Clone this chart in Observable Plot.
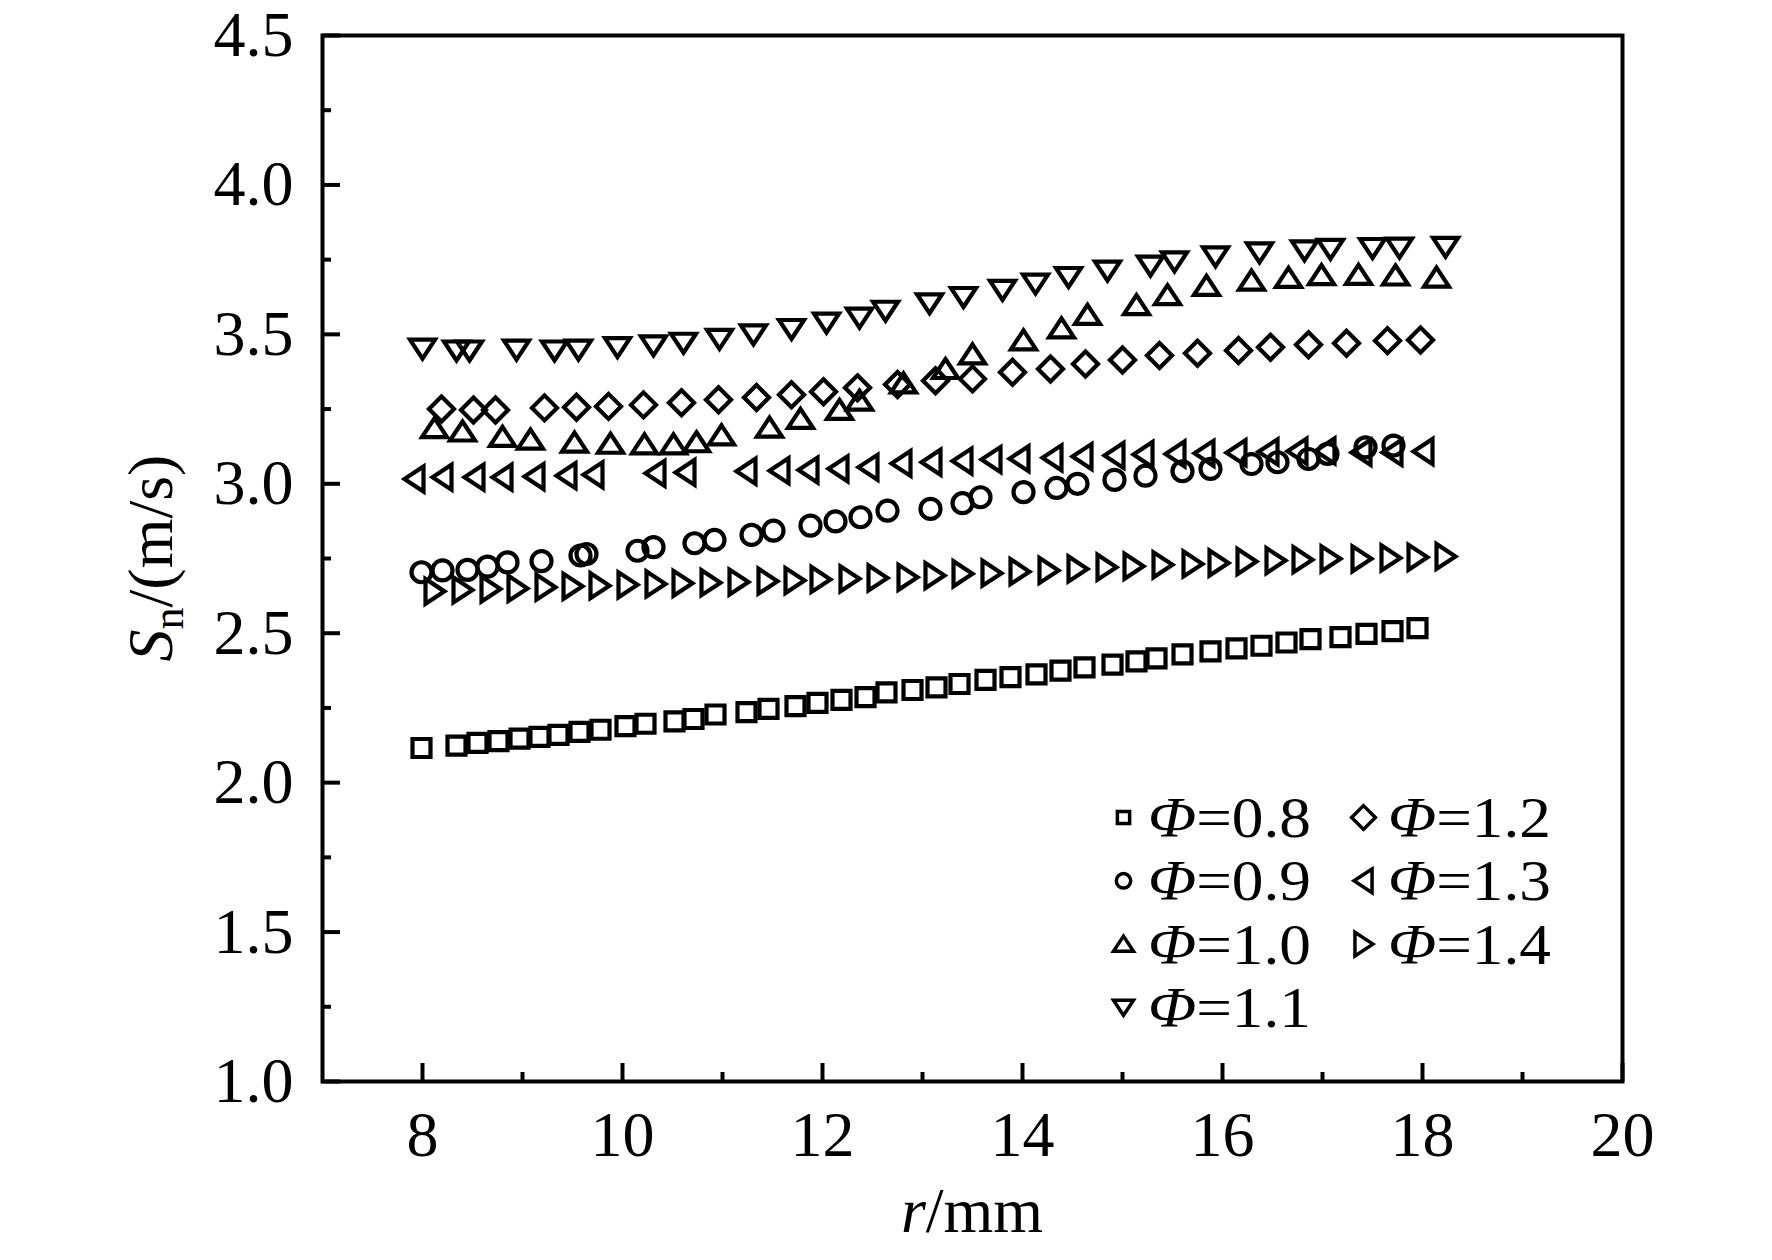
<!DOCTYPE html>
<html>
<head>
<meta charset="utf-8">
<script src="https://cdn.jsdelivr.net/npm/d3@7"></script>
<script src="https://cdn.jsdelivr.net/npm/@observablehq/plot@0.6"></script>
<style>
  body { margin: 0; background: #fff; }
  #chart svg { display: block; }
</style>
</head>
<body>
<div id="chart"></div>
<script>
// ---- tick values ----
const xTicks = [8, 10, 12, 14, 16, 18, 20];
const xMinor = [9, 11, 13, 15, 17, 19];
const yTicks = [1.0, 1.5, 2.0, 2.5, 3.0, 3.5, 4.0, 4.5];
const yMinor = [1.25, 1.75, 2.25, 2.75, 3.25, 3.75, 4.25];

// ---- series (r in mm, Sn in m/s) ----
const seriesNames = ["0.8", "0.9", "1.0", "1.1", "1.2", "1.3", "1.4"];

const r08 = [7.99, 8.34, 8.55, 8.76, 8.97, 9.17, 9.36, 9.57, 9.78, 10.03, 10.23, 10.52, 10.71, 10.93, 11.24, 11.46, 11.73, 11.95, 12.19, 12.43, 12.64, 12.90, 13.14, 13.37, 13.63, 13.88, 14.14, 14.38, 14.62, 14.90, 15.14, 15.34, 15.60, 15.88, 16.14, 16.39, 16.64, 16.88, 17.18, 17.44, 17.70, 17.95];
const s08 = [2.116, 2.124, 2.133, 2.139, 2.147, 2.153, 2.160, 2.170, 2.177, 2.189, 2.197, 2.205, 2.213, 2.228, 2.236, 2.247, 2.256, 2.267, 2.277, 2.286, 2.302, 2.310, 2.319, 2.330, 2.344, 2.353, 2.362, 2.375, 2.386, 2.395, 2.406, 2.416, 2.429, 2.439, 2.449, 2.458, 2.469, 2.480, 2.487, 2.498, 2.507, 2.517];

const r09 = [7.99, 8.20, 8.45, 8.65, 8.85, 9.19, 9.58, 9.64, 10.15, 10.31, 10.72, 10.92, 11.29, 11.51, 11.88, 12.13, 12.38, 12.65, 13.08, 13.40, 13.58, 14.01, 14.34, 14.55, 14.92, 15.23, 15.60, 15.88, 16.29, 16.55, 16.86, 17.05, 17.43, 17.71];
const s09 = [2.704, 2.710, 2.712, 2.723, 2.737, 2.741, 2.760, 2.765, 2.776, 2.788, 2.801, 2.812, 2.829, 2.843, 2.860, 2.874, 2.888, 2.910, 2.916, 2.935, 2.955, 2.972, 2.986, 3.000, 3.013, 3.027, 3.042, 3.050, 3.066, 3.072, 3.083, 3.100, 3.122, 3.128];

const r10 = [8.12, 8.40, 8.80, 9.08, 9.52, 9.88, 10.22, 10.51, 10.74, 10.99, 11.47, 11.78, 12.17, 12.37, 12.81, 13.23, 13.50, 14.01, 14.39, 14.65, 15.14, 15.45, 15.84, 16.29, 16.66, 16.99, 17.36, 17.73, 18.14];
const s10 = [3.186, 3.175, 3.157, 3.148, 3.138, 3.134, 3.132, 3.132, 3.139, 3.162, 3.188, 3.217, 3.247, 3.278, 3.336, 3.384, 3.433, 3.480, 3.520, 3.565, 3.598, 3.631, 3.662, 3.680, 3.689, 3.698, 3.699, 3.697, 3.690];

const r11 = [8.00, 8.34, 8.47, 8.94, 9.32, 9.56, 9.95, 10.31, 10.61, 10.97, 11.31, 11.69, 12.04, 12.37, 12.63, 13.07, 13.41, 13.80, 14.13, 14.46, 14.85, 15.28, 15.52, 15.93, 16.37, 16.82, 17.08, 17.50, 17.77, 18.23];
const s11 = [3.452, 3.446, 3.446, 3.449, 3.446, 3.449, 3.457, 3.463, 3.472, 3.485, 3.500, 3.518, 3.539, 3.556, 3.579, 3.604, 3.625, 3.649, 3.670, 3.692, 3.713, 3.730, 3.744, 3.761, 3.774, 3.781, 3.786, 3.789, 3.790, 3.793];

const r12 = [8.19, 8.51, 8.73, 9.22, 9.54, 9.86, 10.21, 10.59, 10.96, 11.34, 11.69, 12.01, 12.35, 12.75, 13.13, 13.50, 13.90, 14.28, 14.63, 15.00, 15.37, 15.75, 16.16, 16.48, 16.86, 17.24, 17.65, 17.98];
const s12 = [3.250, 3.247, 3.247, 3.254, 3.256, 3.259, 3.264, 3.271, 3.281, 3.289, 3.298, 3.308, 3.321, 3.332, 3.345, 3.351, 3.373, 3.384, 3.401, 3.414, 3.429, 3.437, 3.446, 3.457, 3.465, 3.470, 3.479, 3.481];

const r13 = [7.92, 8.20, 8.52, 8.80, 9.12, 9.44, 9.71, 10.33, 10.63, 11.24, 11.57, 11.86, 12.16, 12.46, 12.79, 13.09, 13.40, 13.69, 13.97, 14.30, 14.60, 14.92, 15.21, 15.53, 15.82, 16.14, 16.46, 16.75, 17.03, 17.39, 17.70, 18.01];
const s13 = [3.016, 3.022, 3.022, 3.022, 3.024, 3.027, 3.030, 3.035, 3.038, 3.042, 3.044, 3.046, 3.050, 3.055, 3.068, 3.072, 3.076, 3.081, 3.084, 3.087, 3.091, 3.095, 3.098, 3.100, 3.102, 3.104, 3.107, 3.109, 3.110, 3.105, 3.105, 3.108];

const r14 = [8.12, 8.40, 8.68, 8.95, 9.23, 9.50, 9.77, 10.05, 10.33, 10.60, 10.88, 11.16, 11.45, 11.72, 11.98, 12.27, 12.55, 12.85, 13.12, 13.40, 13.69, 13.97, 14.26, 14.55, 14.84, 15.11, 15.40, 15.70, 15.96, 16.24, 16.53, 16.80, 17.08, 17.39, 17.68, 17.95, 18.23];
const s14 = [2.640, 2.645, 2.648, 2.650, 2.654, 2.657, 2.659, 2.662, 2.665, 2.667, 2.669, 2.671, 2.674, 2.676, 2.680, 2.682, 2.685, 2.687, 2.693, 2.699, 2.701, 2.706, 2.710, 2.715, 2.721, 2.724, 2.729, 2.732, 2.735, 2.740, 2.743, 2.746, 2.749, 2.749, 2.752, 2.754, 2.757];

const seriesR = [r08, r09, r10, r11, r12, r13, r14];
const seriesS = [s08, s09, s10, s11, s12, s13, s14];

// ---- custom open marker shapes (scaled by r; r = 10 is the data size) ----
function poly(pts) {
  return {
    draw(ctx, size) {
      const k = Math.sqrt(size / Math.PI) / 10;
      ctx.moveTo(pts[0][0] * k, pts[0][1] * k);
      for (let i = 1; i < pts.length; ++i) ctx.lineTo(pts[i][0] * k, pts[i][1] * k);
      ctx.closePath();
    }
  };
}
const symCircle = {
  draw(ctx, size) {
    const rr = Math.sqrt(size / Math.PI);
    ctx.moveTo(rr, 0);
    ctx.arc(0, 0, rr, 0, 2 * Math.PI);
    ctx.closePath();
  }
};
const symSquare = poly([[-9, -9], [9, -9], [9, 9], [-9, 9]]);
const symUp = poly([[0, -10], [12.5, 9], [-12.5, 9]]);
const symDown = poly([[0, 10], [12.5, -9], [-12.5, -9]]);
const symLeft = poly([[-10, 0], [9, -12.5], [9, 12.5]]);
const symRight = poly([[10, 0], [-9, -12.5], [-9, 12.5]]);
const symDiamond = poly([[0, -12.5], [12.5, 0], [0, 12.5], [-12.5, 0]]);
const symbols = [symSquare, symCircle, symUp, symDown, symDiamond, symLeft, symRight];
const legendScale = [0.68, 0.72, 0.8, 0.8, 0.95, 0.95, 0.95];

// ---- layout ----
const W = 1772, H = 1260;
const mL = 322, mR = 150, mT = 35, mB = 179;
const plotW = W - mL - mR, plotH = H - mT - mB;
const font = "'Liberation Serif', 'Times New Roman', serif";

const tables = seriesNames.map((name, i) =>
  seriesR[i].map((r, j) => ({phi: name, r, s: seriesS[i][j]}))
);

// legend geometry (pixel offsets in the frame)
const legCols = [[0, 1, 2, 3], [4, 5, 6]];
const legPos = [];
legCols.forEach((col, c) => col.forEach((idx, row) => {
  legPos[idx] = {sx: 1123 - mL + c * 240, sy: 817 - mT + row * 63.3, tx: 1148 + c * 240, ty: 837 + row * 63.3};
}));

const marks = [
  Plot.axisX(xTicks, {tickSize: 0, tickPadding: 29, fontSize: 64, label: null}),
  Plot.axisY(yTicks, {tickSize: 0, tickPadding: 29, fontSize: 64, tickFormat: d3.format(".1f"), label: null}),
  Plot.tickX(xTicks, {x: d => d, insetTop: plotH - 18, strokeWidth: 4}),
  Plot.tickX(xMinor, {x: d => d, insetTop: plotH - 9, strokeWidth: 4}),
  Plot.tickY(yTicks, {y: d => d, insetRight: plotW - 18, strokeWidth: 4}),
  Plot.tickY(yMinor, {y: d => d, insetRight: plotW - 9, strokeWidth: 4}),
  Plot.frame({strokeWidth: 4})
];
tables.forEach((t, i) => {
  marks.push(Plot.dot(t, {x: "r", y: "s", symbol: symbols[i], r: 10, fill: "none", stroke: "#000", strokeWidth: 4.2}));
});
seriesNames.forEach((name, i) => {
  marks.push(Plot.dot([name], {
    frameAnchor: "top-left", dx: legPos[i].sx, dy: legPos[i].sy,
    symbol: symbols[i], r: 10 * legendScale[i], fill: "none", stroke: "#000", strokeWidth: 3.5
  }));
});

const chart = Plot.plot({
  width: W, height: H,
  marginLeft: mL, marginRight: mR, marginTop: mT, marginBottom: mB,
  x: {domain: [7, 20]},
  y: {domain: [1, 4.5]},
  style: {fontFamily: font, fontSize: "64px", color: "#000", background: "#fff", overflow: "visible"},
  marks
});

const svg = d3.select(chart);

// legend labels
seriesNames.forEach((name, i) => {
  const t = svg.append("text")
    .attr("transform", `translate(${legPos[i].tx},${legPos[i].ty}) scale(1.11,1)`)
    .attr("text-anchor", "start")
    .attr("font-family", font).attr("font-size", 57).attr("fill", "#000");
  t.append("tspan").attr("font-style", "italic").text("Φ");
  t.append("tspan").text("=" + name);
});

// x axis label
const xl = svg.append("text")
  .attr("x", mL + plotW / 2).attr("y", 1232)
  .attr("text-anchor", "middle")
  .attr("font-family", font).attr("font-size", 64).attr("fill", "#000");
xl.append("tspan").attr("font-style", "italic").text("r");
xl.append("tspan").text("/mm");

// y axis label
const yl = svg.append("text")
  .attr("transform", `translate(172, ${mT + plotH / 2}) rotate(-90)`)
  .attr("text-anchor", "middle")
  .attr("font-family", font).attr("font-size", 64).attr("fill", "#000");
yl.append("tspan").attr("font-style", "italic").text("S");
yl.append("tspan").attr("font-size", 44).attr("dy", 11).text("n");
yl.append("tspan").attr("dy", -11).text("/(m/s)");

document.getElementById("chart").appendChild(chart);
</script>
</body>
</html>
